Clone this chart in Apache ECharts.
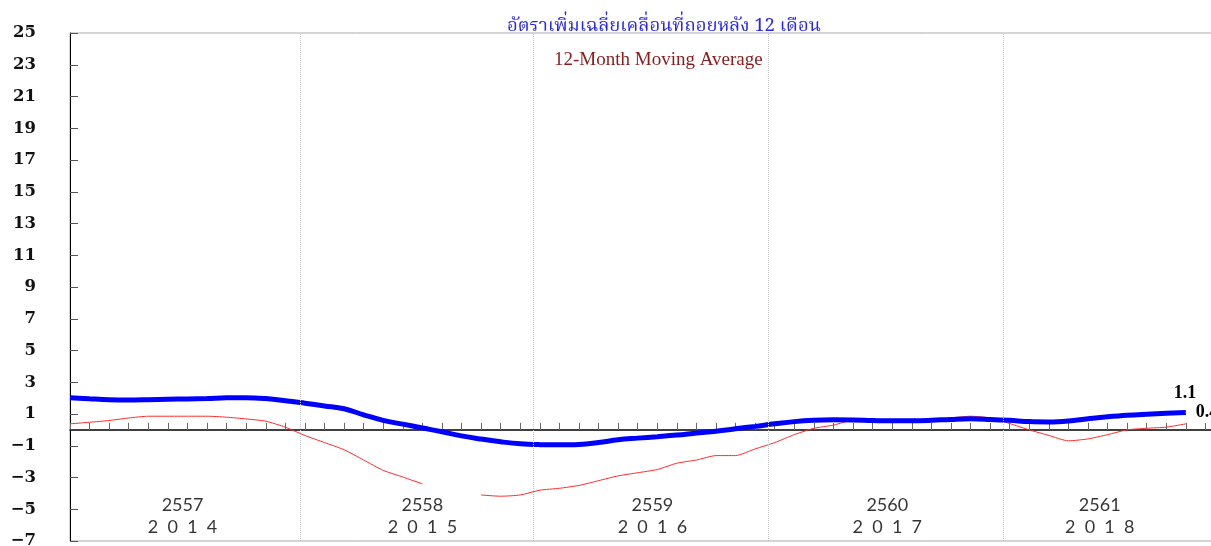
<!DOCTYPE html>
<html>
<head>
<meta charset="utf-8">
<script src="https://cdn.jsdelivr.net/npm/echarts@6/dist/echarts.min.js"></script>
<style>
html,body{margin:0;padding:0;background:#fff;}
#chart{width:1211px;height:546px;}
</style>
</head>
<body>
<div id="chart"></div>
<script>
// Month index 0 = Jan 2014 (2557) ... 57 = Oct 2018 (2561)
const movingAvg12 = [
  2.03, 1.96, 1.90, 1.88, 1.90, 1.93, 1.95, 1.98, 2.02, 2.03, 1.97, 1.84,
  1.68, 1.51, 1.33, 0.95, 0.60, 0.36, 0.12, -0.12, -0.38, -0.58, -0.75, -0.88,
  -0.93, -0.94, -0.92, -0.80, -0.62, -0.52, -0.43, -0.33, -0.20, -0.08, 0.07, 0.22,
  0.38, 0.52, 0.60, 0.63, 0.62, 0.59, 0.57, 0.57, 0.60, 0.66, 0.70, 0.66,
  0.60, 0.52, 0.50, 0.56, 0.70, 0.82, 0.92, 0.99, 1.05, 1.10
];
const monthlyYoY = [
  0.38, 0.48, 0.59, 0.75, 0.86, 0.86, 0.86, 0.86, 0.80, 0.69, 0.55, 0.17,
  -0.35, -0.80, -1.25, -1.90, -2.55, -2.97, -3.40, null, null, -4.10, -4.18, -4.10,
  -3.80, -3.68, -3.50, -3.20, -2.90, -2.70, -2.50, -2.10, -1.90, -1.62, -1.62, -1.20,
  -0.80, -0.30, 0.10, 0.30, 0.60, 0.60, 0.57, 0.57, 0.65, 0.75, 0.86, 0.75,
  0.40, 0.00, -0.35, -0.69, -0.57, -0.30, 0.00, 0.10, 0.17, 0.38
];
const yearsBE = ['2557', '2558', '2559', '2560', '2561'];
const yearsCE = ['2014', '2015', '2016', '2017', '2018'];
const yearLabelAt = [5.75, 18.0, 29.75, 41.75, 52.6];  // month-index centres of year labels
const yearBoundaries = [11.75, 23.65, 35.65, 47.65];  // month-index positions of dotted year lines
const yTicks = { min: -7, max: 25, step: 2 };
const endLabelBlue = '1.1';
const endLabelRed = '0.4';

const toPairs = arr => arr.map((v, i) => [i, v]);
const endLabelStyle = { fontFamily: 'Liberation Serif', fontWeight: 'bold', fontSize: 18, color: '#000' };

const chart = echarts.init(document.getElementById('chart'), null, { renderer: 'canvas' });
chart.setOption({
  backgroundColor: '#fff',
  animation: false,
  title: [
    { text: 'อัตราเพิ่มเฉลี่ยเคลื่อนที่ถอยหลัง 12 เดือน', left: 502, top: 13,
      textStyle: { color: '#2323f5', fontSize: 18.5, fontWeight: 'normal',
                   fontFamily: "'Noto Serif Thai','Noto Sans Thai','Tlwg Typo','Garuda',serif" } },
    { text: '12-Month Moving Average', left: 549, top: 46,
      textStyle: { color: '#8b1a1a', fontSize: 19, fontWeight: 'normal', fontFamily: 'Liberation Serif' } }
  ],
  grid: { left: 70, right: -14, top: 33, bottom: 5, show: true, borderColor: '#aaa', borderWidth: 1,
          outerBoundsMode: 'none', containLabel: false },
  xAxis: {
    type: 'value', min: 0, max: 59, interval: 1,
    axisLine: { onZero: true, lineStyle: { color: '#000', width: 1.5 } },
    axisTick: { show: true, inside: true, length: 7, lineStyle: { color: '#666' } },
    axisLabel: { show: false },
    splitLine: { show: false }
  },
  yAxis: {
    type: 'value', min: yTicks.min, max: yTicks.max, interval: yTicks.step,
    axisLine: { show: true, lineStyle: { color: '#000', width: 1 } },
    axisTick: { show: true, inside: true, length: 8, lineStyle: { color: '#555' } },
    axisLabel: { margin: 34, fontFamily: 'DejaVu Serif', fontWeight: 'bold', fontSize: 16.5, color: '#111',
                 formatter: v => (v < 0 ? '\u2212' + Math.abs(v) : String(v)) },
    splitLine: { show: false }
  },
  series: [
    {
      type: 'line', data: toPairs(monthlyYoY), smooth: 0.2, showSymbol: false, symbol: 'none',
      connectNulls: false,
      lineStyle: { color: '#ff2a2a', width: 1 }, z: 3,
      endLabel: Object.assign({ show: true, formatter: endLabelRed, distance: 10, offset: [0, -11] }, endLabelStyle),
      markLine: {
        silent: true, symbol: 'none', label: { show: false },
        lineStyle: { color: '#c4c4c4', type: 'dotted', width: 1 },
        data: yearBoundaries.map(v => ({ xAxis: v }))
      }
    },
    {
      type: 'line', data: toPairs(movingAvg12), smooth: 0.4, showSymbol: false, symbol: 'none',
      lineStyle: { color: '#0000ff', width: 5 }, z: 4,
      endLabel: Object.assign({ show: true, formatter: endLabelBlue, distance: 0, offset: [-12, -19] }, endLabelStyle)
    },
    {
      type: 'scatter', symbolSize: 0, silent: true, z: 5,
      data: yearLabelAt.map((x, i) => ({
        value: [x, -5.45],
        label: { show: true, position: 'inside',
                 formatter: yearsBE[i] + '\n' + yearsCE[i].split('').join('  '),
                 fontFamily: 'Lato', fontSize: 18, lineHeight: 22, color: '#000' }
      }))
    }
  ]
});
</script>
</body>
</html>
